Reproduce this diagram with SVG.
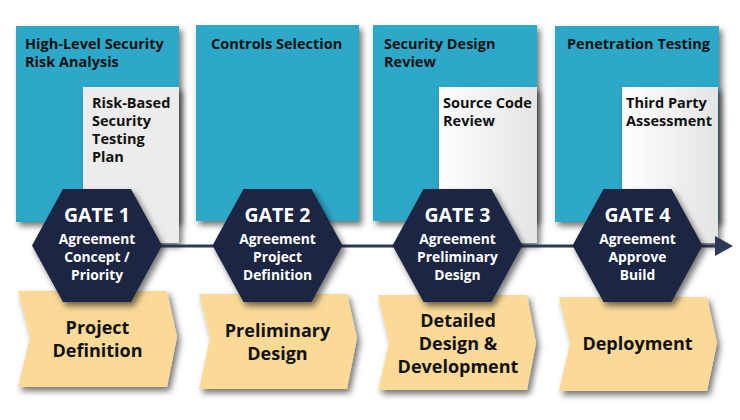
<svg xmlns="http://www.w3.org/2000/svg" width="740" height="420" viewBox="0 0 740 420">
<defs>
<filter id="sh" x="-20%" y="-20%" width="150%" height="150%">
<feDropShadow dx="3" dy="4" stdDeviation="3" flood-color="#000" flood-opacity="0.55"/>
</filter>
<linearGradient id="gg" x1="0" y1="0" x2="1" y2="0">
<stop offset="0" stop-color="#ffffff"/>
<stop offset="1" stop-color="#e4e4e4"/>
</linearGradient>
<marker id="arr" viewBox="0 0 18 20" refX="1" refY="10" markerWidth="18" markerHeight="20" markerUnits="userSpaceOnUse" orient="auto">
<path d="M0,0 L18,10 L0,20 Z" fill="#2c3a57"/>
</marker>
<style>
.blue{fill:#2ea8c8;filter:url(#sh)}
.gray{fill:url(#gg);filter:url(#sh)}
.hex{fill:#1b2842;filter:url(#sh)}
.chev{fill:#fbda98;filter:url(#sh)}
text{font-family:"Open Sans","DejaVu Sans",sans-serif;font-weight:bold}
.t{font-size:14.5px;fill:#111}
.g{font-size:19.5px;fill:#fff;text-anchor:middle}
.a{font-size:13.8px;fill:#fff;text-anchor:middle}
.c{font-size:18px;fill:#111;text-anchor:middle}
</style>
</defs>
<g id="activities">
<g id="box1">
<rect class="blue" x="16" y="26" width="163" height="196"/>
<text class="t" x="25" y="49">High-Level Security</text>
<text class="t" x="25" y="67">Risk Analysis</text>
</g>
<g id="box2">
<rect class="blue" x="196" y="25" width="163" height="196"/>
<text class="t" x="211" y="49">Controls Selection</text>
</g>
<g id="box3">
<rect class="blue" x="373" y="25" width="164" height="196"/>
<text class="t" x="384" y="49">Security Design</text>
<text class="t" x="384" y="67">Review</text>
</g>
<g id="box4">
<rect class="blue" x="555" y="26" width="164" height="196"/>
<text class="t" x="567" y="49">Penetration Testing</text>
</g>
<g id="sub1">
<rect class="gray" x="83" y="87" width="96" height="156" style="fill:#ececec"/>
<text class="t" x="92" y="108">Risk-Based</text>
<text class="t" x="92" y="126">Security</text>
<text class="t" x="92" y="144">Testing</text>
<text class="t" x="92" y="162">Plan</text>
</g>
<g id="sub3">
<rect class="gray" x="439" y="87" width="98" height="156"/>
<text class="t" x="443" y="108">Source Code</text>
<text class="t" x="443" y="126">Review</text>
</g>
<g id="sub4">
<rect class="gray" x="622" y="87" width="96" height="156"/>
<text class="t" x="626" y="108">Third Party</text>
<text class="t" x="626" y="126">Assessment</text>
</g>
</g>
<g id="connectors">
<line x1="97" y1="246" x2="716" y2="246" stroke="#2c3a57" stroke-width="3" marker-end="url(#arr)"/>
</g>
<g id="phases">
<g id="phase1">
<polygon class="chev" points="18,291 167,291 177,337 167,387 18,387 30,337"/>
<text class="c" x="97.5" y="334">Project</text>
<text class="c" x="97.5" y="357">Definition</text>
</g>
<g id="phase2">
<polygon class="chev" points="199,294 347,294 357,338 347,389 199,389 210,338"/>
<text class="c" x="277.5" y="336.5">Preliminary</text>
<text class="c" x="277.5" y="359.5">Design</text>
</g>
<g id="phase3">
<polygon class="chev" points="378,295 527,295 536,343 527,390 378,390 389,343"/>
<text class="c" x="458" y="327">Detailed</text>
<text class="c" x="458" y="350">Design &amp;</text>
<text class="c" x="458" y="373">Development</text>
</g>
<g id="phase4">
<polygon class="chev" points="559,297 707,297 717,343 707,391 559,391 570,343"/>
<text class="c" x="637.5" y="350">Deployment</text>
</g>
</g>
<g id="gates">
<g id="gate1">
<polygon class="hex" points="32,245.5 63,189 131,189 162,245.5 131,302 63,302"/>
<text class="g" x="97" y="222">GATE 1</text>
<text class="a" x="97" y="244">Agreement</text>
<text class="a" x="97" y="262">Concept /</text>
<text class="a" x="97" y="279.5">Priority</text>
</g>
<g id="gate2">
<polygon class="hex" points="212.5,245.5 243.5,189 311.5,189 342.5,245.5 311.5,302 243.5,302"/>
<text class="g" x="277.5" y="222">GATE 2</text>
<text class="a" x="277.5" y="244">Agreement</text>
<text class="a" x="277.5" y="262">Project</text>
<text class="a" x="277.5" y="279.5">Definition</text>
</g>
<g id="gate3">
<polygon class="hex" points="392.5,245.5 423.5,189 491.5,189 522.5,245.5 491.5,302 423.5,302"/>
<text class="g" x="457.5" y="222">GATE 3</text>
<text class="a" x="457.5" y="244">Agreement</text>
<text class="a" x="457.5" y="262">Preliminary</text>
<text class="a" x="457.5" y="279.5">Design</text>
</g>
<g id="gate4">
<polygon class="hex" points="572.5,245.5 603.5,189 671.5,189 702.5,245.5 671.5,302 603.5,302"/>
<text class="g" x="637.5" y="222">GATE 4</text>
<text class="a" x="637.5" y="244">Agreement</text>
<text class="a" x="637.5" y="262">Approve</text>
<text class="a" x="637.5" y="279.5">Build</text>
</g>
</g>
</svg>
